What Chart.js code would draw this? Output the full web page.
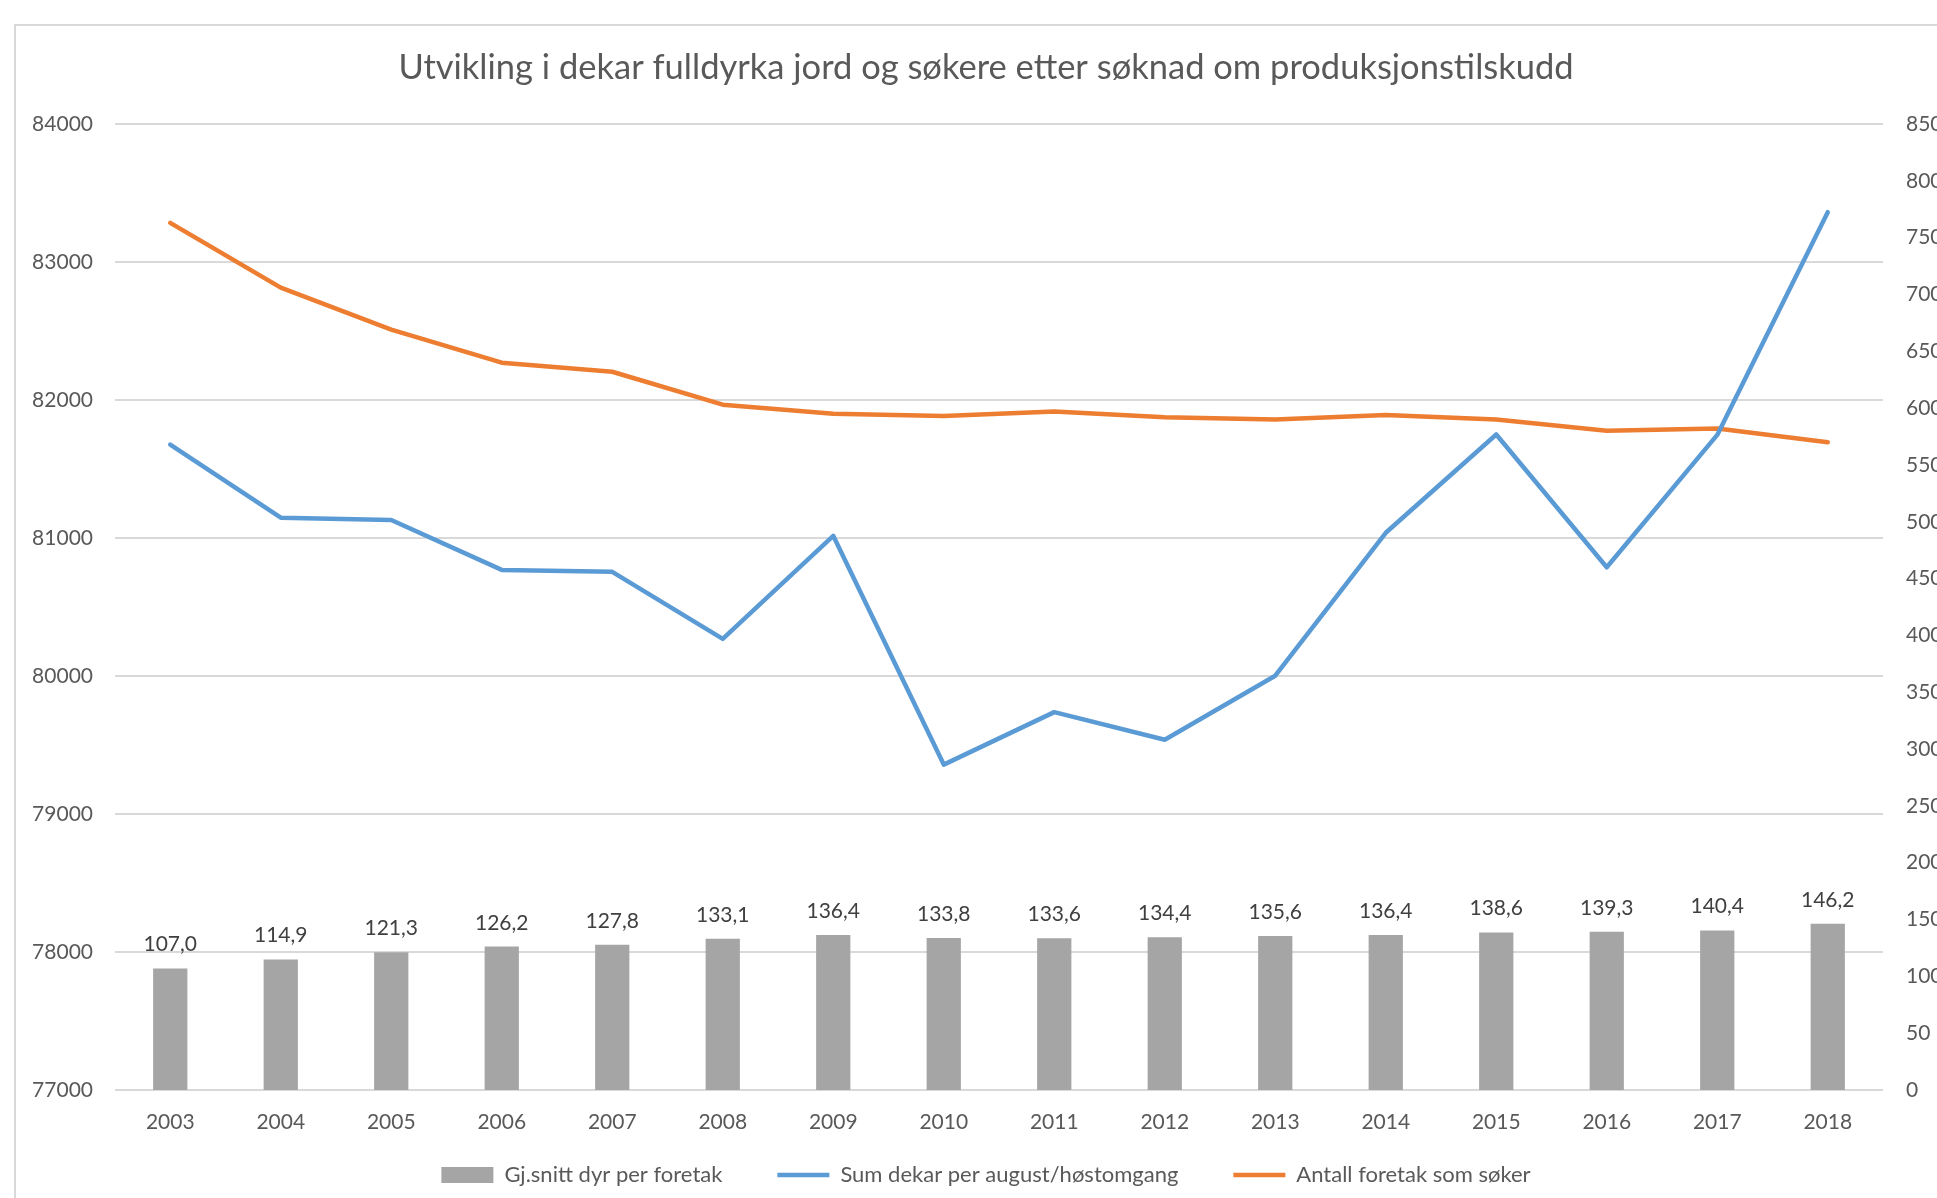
<!DOCTYPE html>
<html>
<head>
<meta charset="utf-8">
<script src="https://cdn.jsdelivr.net/npm/chart.js@4.4.0/dist/chart.umd.min.js"></script>
<style>
  html, body { margin: 0; padding: 0; background: #fff; overflow: hidden; width: 1937px; height: 1198px; }
  #frame { position: absolute; left: 14px; top: 24px; width: 2000px; height: 1300px; border: 2px solid #d9d9d9; box-sizing: border-box; }
  #c { position: absolute; left: 15px; top: 0; }
</style>
</head>
<body>
<div id="frame"></div>
<canvas id="c" width="1942" height="1222"></canvas>
<script>
// data
const years = ["2003", "2004", "2005", "2006", "2007", "2008", "2009", "2010",
  "2011", "2012", "2013", "2014", "2015", "2016", "2017", "2018"];
const avgAnimals = [107.0, 114.9, 121.3, 126.2, 127.8, 133.1, 136.4, 133.8,
  133.6, 134.4, 135.6, 136.4, 138.6, 139.3, 140.4, 146.2];
const sumDekar = [81677, 81147, 81130, 80769, 80755, 80269, 81016, 79358,
  79738, 79538, 80002, 81038, 81750, 80788, 81747, 83361];
const applicants = [763, 706, 669, 640, 632, 603, 595, 593,
  597, 592, 590, 594, 590, 580, 582, 570];

const colors = {
  bar: "#a5a5a5",
  blue: "#5b9bd5",
  orange: "#ed7d31",
  text: "#595959",
  label: "#404040",
  grid: "#d9d9d9",
};

Chart.defaults.font.family = "Lato";
Chart.defaults.color = colors.text;

// values printed above the bars, Norwegian decimal comma
const barLabels = {
  id: "barLabels",
  afterDatasetsDraw(chart) {
    const ctx = chart.ctx;
    const meta = chart.getDatasetMeta(0);
    ctx.save();
    ctx.font = "21px Lato";
    ctx.fillStyle = colors.label;
    ctx.textAlign = "center";
    ctx.textBaseline = "alphabetic";
    meta.data.forEach(function (bar, i) {
      ctx.fillText(avgAnimals[i].toFixed(1).replace(".", ","), bar.x, bar.y - 17);
    });
    ctx.restore();
  },
};

// legend padding also sets the gap above the items; pull the row up a bit
const legendLift = {
  id: "legendLift",
  afterLayout(chart) {
    if (!chart.legend) return;
    chart.legend.top -= 26;
    chart.legend.bottom -= 26;
  },
};

new Chart(document.getElementById("c"), {
  type: "bar",
  data: {
    labels: years,
    datasets: [
      {
        label: "Gj.snitt dyr per foretak",
        data: avgAnimals,
        yAxisID: "yR",
        backgroundColor: colors.bar,
        borderWidth: 0,
        categoryPercentage: 1,
        barPercentage: 0.31,
        pointStyle: "rect",
      },
      {
        type: "line",
        label: "Sum dekar per august/høstomgang",
        data: sumDekar,
        yAxisID: "yL",
        borderColor: colors.blue,
        backgroundColor: colors.blue,
        borderWidth: 4.5,
        pointRadius: 0,
        tension: 0,
        borderJoinStyle: "round",
        borderCapStyle: "round",
        pointStyle: "line",
      },
      {
        type: "line",
        label: "Antall foretak som søker",
        data: applicants,
        yAxisID: "yR",
        borderColor: colors.orange,
        backgroundColor: colors.orange,
        borderWidth: 4.5,
        pointRadius: 0,
        tension: 0,
        borderJoinStyle: "round",
        borderCapStyle: "round",
        pointStyle: "line",
      },
    ],
  },
  options: {
    responsive: false,
    animation: false,
    layout: { padding: { left: 0, right: 0, top: 0, bottom: 0 } },
    plugins: {
      title: {
        display: true,
        text: "Utvikling i dekar fulldyrka jord og søkere etter søknad om produksjonstilskudd",
        color: colors.text,
        font: { size: 34.5, weight: "normal" },
        padding: { top: 47, bottom: 35.6 },
      },
      legend: {
        position: "bottom",
        labels: {
          usePointStyle: true,
          pointStyleWidth: 52,
          boxHeight: 16,
          padding: 55,
          color: colors.text,
          font: { size: 22 },
        },
      },
      tooltip: { enabled: false },
    },
    scales: {
      x: {
        grid: { display: false },
        border: { display: false },
        ticks: { color: colors.text, font: { size: 21 }, padding: 12 },
        afterFit: function (scale) { scale.height = 45; },
      },
      yL: {
        position: "left",
        min: 77000,
        max: 84000,
        ticks: {
          stepSize: 1000,
          color: colors.text,
          font: { size: 21 },
          padding: 22,
          callback: function (v) { return String(v); },
        },
        grid: { color: colors.grid, lineWidth: 2, drawTicks: false },
        border: { display: false },
        afterFit: function (scale) { scale.width = 100; },
      },
      yR: {
        position: "right",
        min: 0,
        max: 850,
        ticks: { stepSize: 50, color: colors.text, font: { size: 21 }, padding: 23 },
        grid: { display: false, drawTicks: false },
        border: { display: false },
        afterFit: function (scale) { scale.width = 74; },
      },
    },
  },
  plugins: [barLabels, legendLift],
});
</script>
</body>
</html>
